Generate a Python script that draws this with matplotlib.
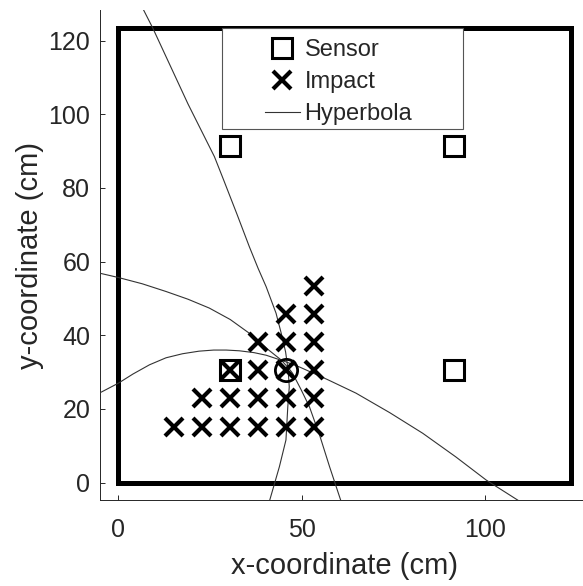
import numpy as np
import matplotlib
matplotlib.use('Agg')
import matplotlib.pyplot as plt
from matplotlib.patches import Rectangle
from matplotlib.lines import Line2D

plt.rcParams['font.family'] = ['Liberation Sans', 'DejaVu Sans']

# plate outline (cm)
plate_size = 123.5

# sensors (cm)
sensor_x = [30.48, 30.48, 91.44, 91.44]
sensor_y = [30.48, 91.44, 91.44, 30.48]

# impact grid (cm)
impact_x = [15.24, 22.86, 30.48, 38.10, 45.72, 53.34,
            22.86, 30.48, 38.10, 45.72, 53.34,
            30.48, 38.10, 45.72, 53.34,
            38.10, 45.72, 53.34,
            45.72, 53.34,
            53.34]
impact_y = [15.24] * 6 + [22.86] * 5 + [30.48] * 4 + [38.10] * 3 + [45.72] * 2 + [53.34]

# located impact
loc_x = [45.72]
loc_y = [30.48]

# hyperbolas
hypA_x = [6.9, 9.4, 19.0, 26.2, 28.7, 32.3, 35.7, 38.1, 40.3, 43.0, 44.4, 45.6, 46.3, 46.6, 46.2, 45.7, 43.9, 41.2]
hypA_y = [128.3, 123.4, 102.8, 88.5, 82.2, 73.0, 64.1, 58.2, 53.2, 46.0, 40.6, 35.5, 30.5, 26.0, 20.6, 11.6, 4.3, -5.0]

hypB_x = [-5.2, 0.0, 6.5, 13.0, 19.0, 24.8, 30.5, 36.5, 41.0, 44.4, 46.5, 47.5, 49.8, 52.1, 55.0, 57.6, 60.7]
hypB_y = [56.9, 55.7, 54.0, 51.9, 49.8, 47.4, 44.3, 40.0, 36.0, 33.3, 31.0, 29.7, 25.3, 20.6, 12.5, 4.3, -5.0]

hypC_x = [-5.2, 0.0, 4.0, 8.5, 13.0, 17.5, 22.0, 26.0, 29.4, 33.0, 37.0, 40.3, 45.7, 49.4, 57.0, 64.8, 74.0, 83.0, 92.0, 100.3, 109.3]
hypC_y = [24.3, 27.0, 29.5, 32.0, 33.9, 35.0, 35.7, 36.0, 36.0, 35.8, 35.3, 34.6, 32.8, 31.4, 28.0, 24.3, 19.0, 13.4, 7.0, 0.7, -5.0]

fig = plt.figure(figsize=(5.83, 5.86), dpi=100)
ax = fig.add_axes([0.1715, 0.1468, 0.8387, 0.836])

ax.add_patch(Rectangle((0, 0), plate_size, plate_size, fill=False, ec='k', lw=3.6, zorder=2))

for hx, hy in [(hypA_x, hypA_y), (hypB_x, hypB_y), (hypC_x, hypC_y)]:
    ax.plot(hx, hy, '-', color='#333333', lw=0.8, zorder=3)

ax.plot(sensor_x, sensor_y, 's', ms=14, mfc='none', mec='k', mew=2.2, zorder=4)
ax.plot(impact_x, impact_y, 'x', ms=13, mec='k', mew=3, zorder=4)
ax.plot(loc_x, loc_y, 'o', ms=16, mfc='none', mec='k', mew=2, zorder=5)

ax.set_xlim(-5, 128.3)
ax.set_ylim(-4.7, 128.3)
ax.set_xticks([0, 50, 100])
ax.set_yticks([0, 20, 40, 60, 80, 100, 120])

for s in ['top', 'right']:
    ax.spines[s].set_visible(False)
for s in ['left', 'bottom']:
    ax.spines[s].set_color('#262626')
    ax.spines[s].set_linewidth(0.7)
ax.tick_params(direction='in', length=3.6, width=0.7, colors='#262626', labelsize=18)
ax.tick_params(axis='x', pad=13)
ax.tick_params(axis='y', pad=7)
ax.set_xlabel('x-coordinate (cm)', fontsize=21, color='#262626', labelpad=7)
ax.set_ylabel('y-coordinate (cm)', fontsize=21, color='#262626', labelpad=3)

# legend box
ax.add_patch(Rectangle((0.249, 0.757), 0.493, 0.206, transform=ax.transAxes,
                       fill=True, fc='white', ec='#555555', lw=0.8, zorder=6))
handles = [Line2D([], [], ls='none', marker='s', ms=14, mfc='none', mec='k', mew=2.2),
           Line2D([], [], ls='none', marker='x', ms=13, mec='k', mew=3),
           Line2D([], [], color='#333333', lw=0.8)]
leg = ax.legend(handles, ['Sensor', 'Impact', 'Hyperbola'], loc='upper left',
                bbox_to_anchor=(0.337, 0.94), frameon=False, fontsize=17,
                handlelength=1.48, handletextpad=0.2, labelspacing=0.42,
                borderpad=0, borderaxespad=0)
leg.set_zorder(7)
for t in leg.get_texts():
    t.set_color('#262626')

fig.savefig('out.png', dpi=100)
